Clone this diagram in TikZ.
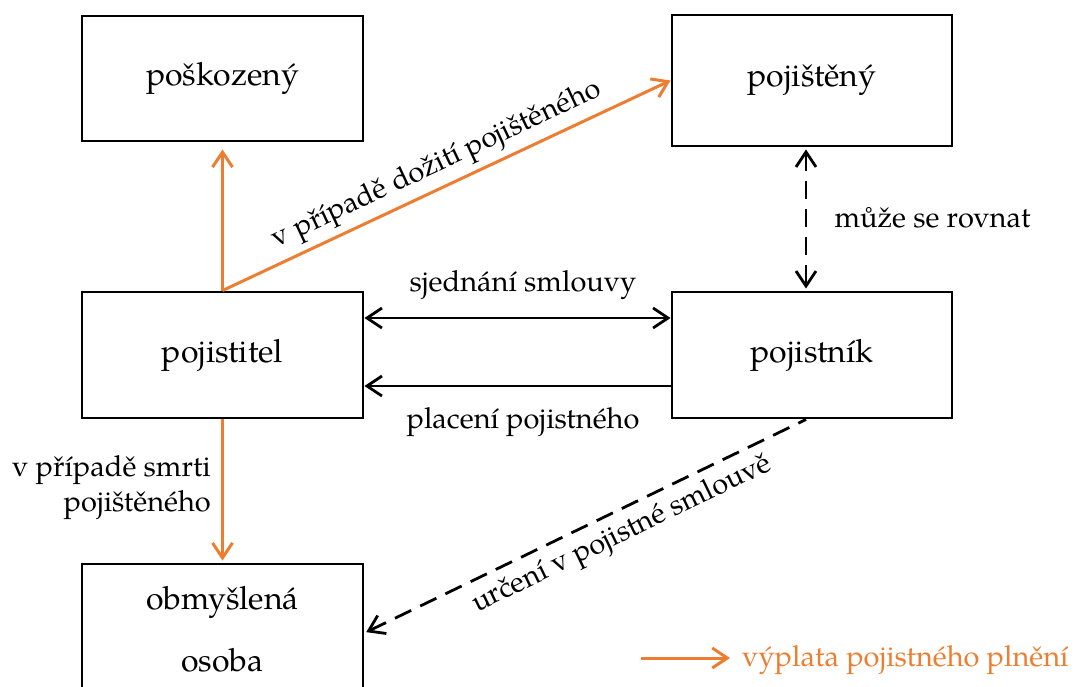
\documentclass[tikz,border=0pt]{standalone}
\usepackage{fontspec}
\setmainfont{texgyrepagella}[Extension=.otf, UprightFont=*-regular]
\usetikzlibrary{arrows.meta}
\definecolor{orng}{HTML}{ED7D31}
\newcommand\lblfont{\fontsize{29}{35}\selectfont}
\newcommand\boxfont{\fontsize{32}{38}\selectfont}
\begin{document}
\begin{tikzpicture}[x=1pt,y=-1pt,
  every node/.style={font=\lblfont},
  box/.style={draw, line width=2.9pt, minimum width=281pt, minimum height=126pt, inner sep=0pt, font=\boxfont},
  oarrow/.style={draw=orng, line width=3pt, -{Straight Barb[length=15pt,width=20pt]}},
  barrow/.style={draw=black, line width=2.8pt},
  dsh/.style={dash pattern=on 18pt off 10pt}
]
\useasboundingbox (0,0) rectangle (1076,686);
\clip (0,0) rectangle (1076,686);

\node[box, minimum height=125pt] (posk) at (222.5,78.5) {poškozený};
\node[box, minimum width=280pt, minimum height=131pt] (pojisteny) at (812,80.5) {pojištěný};
\node[box] (pojistitel) at (222.5,355) {pojistitel};
\node[box, minimum width=280pt] (pojistnik) at (812,355) {pojistník};
\node[box, minimum height=130pt, align=center] (obmysl) at (222.5,629) {obmyšlená\\[24pt]osoba};

% orange arrows
\draw[oarrow, shorten >=7pt] (pojistitel.north) -- (posk.south);
\draw[oarrow] (pojistitel.north) -- node[midway, sloped, above, inner sep=6pt] {v případě dožití pojištěného} (pojisteny.west);
\draw[oarrow, shorten >=2pt] (pojistitel.south) -- (obmysl.north);
\node[anchor=east, align=right, inner sep=0pt] (smrt) at (211,488) {v případě smrti\\pojištěného};

% black arrows
\draw[barrow, {Straight Barb[length=15pt,width=20pt]}-{Straight Barb[length=15pt,width=20pt]}] ([yshift=37pt]pojistitel.east) -- ([yshift=37pt]pojistnik.west);
\node[anchor=base] (sj) at (523,291) {sjednání smlouvy};
\draw[barrow, -{Straight Barb[length=15pt,width=20pt]}] ([yshift=-31pt]pojistnik.west) -- ([yshift=-31pt]pojistitel.east);
\node[anchor=base] (pl) at (523,428) {placení pojistného};

% dashed arrows
\draw[barrow, dsh, {Straight Barb[length=15pt,width=20pt]}-{Straight Barb[length=15pt,width=20pt]}, shorten <=2pt, shorten >=2pt] ([xshift=-6pt]pojisteny.south) -- ([xshift=-6pt]pojistnik.north);
\node[anchor=base west] (muze) at (831,227) {může se rovnat};
\draw[barrow, dsh, {Straight Barb[length=15pt,width=20pt]}-, shorten <=2pt] ([yshift=-4pt]obmysl.east) -- node[pos=0.56, sloped, below, inner sep=8pt] {určení v pojistné smlouvě} ([xshift=-6pt]pojistnik.south);

% legend
\coordinate (legA) at (641,658);
\coordinate (legB) at (730,658);
\draw[oarrow] (legA) -- (legB);
\node[anchor=base west, text=orng, inner sep=0pt] (legtext) at (742,666) {výplata pojistného plnění};
\end{tikzpicture}
\end{document}
